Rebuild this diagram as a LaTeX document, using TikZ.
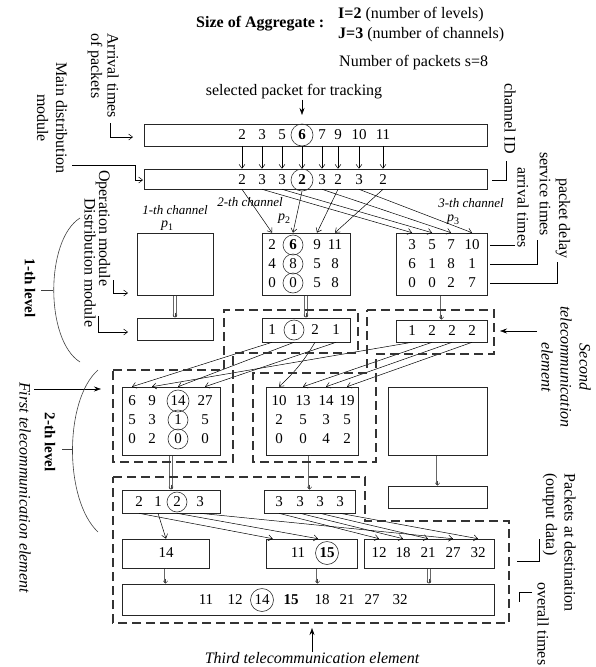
\documentclass[tikz,border=0pt]{standalone}
\usepackage{fontspec}
\setmainfont{Liberation Serif}
\usetikzlibrary{arrows.meta,calc}
\newcommand\hollowarrow[2]{%
  \draw[line width=3.6pt, black!60, shorten <=0.4pt, shorten >=1pt] #1 -- #2;%
  \draw[line width=2.0pt, white, shorten <=0.4pt, shorten >=1.2pt] #1 -- #2;%
  \draw[line width=0.5pt, black!75, -{Straight Barb[length=2.5pt,width=4.5pt]}] ($#2+(0,-5)$) -- #2;}
\begin{document}
\begin{tikzpicture}[x=1pt,y=-1pt,
  box/.style={draw=black!85, line width=0.6pt, inner sep=0pt},
  num/.style={font=\fontsize{15}{15}\selectfont, inner sep=0pt},
  ring/.style={draw=black!80, line width=0.6pt, circle, minimum size=#1, inner sep=0pt},
  ring/.default=20pt,
  arr/.style={line width=0.5pt, -{Straight Barb[length=4pt,width=6pt]}},
  dsh/.style={line width=1.2pt, draw=black!80, dash pattern=on 9pt off 5pt},
  lbl/.style={font=\fontsize{16}{18}\selectfont, inner sep=0pt},
  vlbl/.style={font=\fontsize{16}{19}\selectfont, inner sep=0pt, rotate=-90},
  chl/.style={font=\fontsize{13}{14}\selectfont\itshape, inner sep=0pt},
  pl/.style={font=\fontsize{14}{14}\selectfont, inner sep=0pt},
  big/.style={line width=0.6pt, -{Stealth[length=7pt,width=5pt]}},
  lead/.style={line width=0.6pt},
]
\useasboundingbox (0,0) rectangle (596,667);

% ---------- header ----------
\node[lbl, font=\fontsize{16}{18}\selectfont\bfseries, anchor=west] (size) at (196,24) {Size of Aggregate :};
\node[lbl, anchor=west] (lv) at (338,15) {\textbf{I=2} (number of levels)};
\node[lbl, anchor=west] (chn) at (338,35) {\textbf{J=3} (number of channels)};
\node[lbl, anchor=west] (nps) at (339,63) {Number of packets s=8};
\node[lbl] (sel) at (294,92) {selected packet for tracking};

% ---------- boxes ----------
\node[box, minimum width=343pt, minimum height=22pt] (bA) at (315.5,135) {};
\node[box, minimum width=343pt, minimum height=20pt] (bC) at (315.5,179) {};
\node[box, minimum width=76pt, minimum height=62pt] (bO1) at (175,264) {};
\node[box, minimum width=88pt, minimum height=62pt] (bO2) at (306,264) {};
\node[box, minimum width=91pt, minimum height=62pt] (bO3) at (441.5,264) {};
\node[box, minimum width=76pt, minimum height=22pt] (bD1) at (175,329) {};
\node[box, minimum width=88pt, minimum height=24pt] (bD2) at (306,330) {};
\node[box, minimum width=91pt, minimum height=22pt] (bD3) at (441.5,331) {};
\node[box, minimum width=98pt, minimum height=68pt] (bM1) at (171,421) {};
\node[box, minimum width=92pt, minimum height=68pt] (bM2) at (312,421) {};
\node[box, minimum width=99pt, minimum height=68pt] (bM3) at (437.5,421) {};
\node[box, minimum width=98pt, minimum height=23pt] (bE1) at (171,501.5) {};
\node[box, minimum width=91pt, minimum height=23pt] (bE2) at (309.5,501.5) {};
\node[box, minimum width=99pt, minimum height=22pt] (bE3) at (437.5,497) {};
\node[box, minimum width=87pt, minimum height=29pt] (bF1) at (165.5,553.5) {};
\node[box, minimum width=91pt, minimum height=29pt] (bF2) at (311.5,553.5) {};
\node[box, minimum width=130pt, minimum height=29pt] (bF3) at (429,553.5) {};
\node[box, minimum width=372pt, minimum height=31pt] (bG) at (308,599.5) {};

% ---------- arrival times / channel IDs ----------
\foreach \x/\va [count=\i] in {242/2,262/3,282/5,302/{\textbf{6}},322/7,338/9,359/10,383/11}
  \node[num] (a\i) at (\x,135) {\va};
\node[ring=22pt] (ra) at (a4) {};
\foreach \x/\va [count=\i] in {242/2,262/3,282/3,302/{\textbf{2}},322/3,338/2,359/3,383/2}
  \node[num] (c\i) at (\x,180) {\va};
\node[ring=22pt] (rc) at (c4) {};
\foreach \i in {1,...,8}
  \draw[arr] (a\i |- bA.south) -- (c\i |- bC.north);
\coordinate (selEnd) at (302,115);
\draw[big] (sel.south -| selEnd) -- (selEnd);

% ---------- level 1 operation modules ----------
\foreach \y/\va/\vb/\vc/\vd [count=\r] in {245/2/{\textbf{6}}/9/11, 264/4/8/5/8, 283/0/0/5/8}{
  \node[num] (o2-\r-1) at (272,\y) {\va};
  \node[num] (o2-\r-2) at (293,\y) {\vb};
  \node[num] (o2-\r-3) at (317,\y) {\vc};
  \node[num] (o2-\r-4) at (335,\y) {\vd};
}
\foreach \r in {1,2,3} \node[ring] (o2ring\r) at (o2-\r-2) {};
\foreach \y/\va/\vb/\vc/\vd [count=\r] in {245/3/5/7/10, 264/6/1/8/1, 283/0/0/2/7}{
  \node[num] (o3-\r-1) at (412,\y) {\va};
  \node[num] (o3-\r-2) at (432,\y) {\vb};
  \node[num] (o3-\r-3) at (451,\y) {\vc};
  \node[num] (o3-\r-4) at (472,\y) {\vd};
}
\node[chl] (ch1) at (175,210) {1-th channel};
\node[chl] (ch2) at (250,202) {2-th channel};
\node[chl] (ch3) at (471,203) {3-th channel};
\node[pl] (p1) at (167,226) {\textit{p}\raisebox{-3pt}{\fontsize{10}{10}\selectfont 1}};
\node[pl] (p2) at (284,219) {\textit{p}\raisebox{-3pt}{\fontsize{10}{10}\selectfont 2}};
\node[pl] (p3) at (453,220) {\textit{p}\raisebox{-3pt}{\fontsize{10}{10}\selectfont 3}};

\draw[arr] (c1 |- bC.south) -- (o2-1-1 |- bO2.north);
\draw[arr] (c2 |- bC.south) -- (o3-1-1 |- bO3.north);
\draw[arr] (c3 |- bC.south) -- (o3-1-2 |- bO3.north);
\draw[arr] (rc.south) -- (o2-1-2 |- bO2.north);
\draw[arr] (c5 |- bC.south) -- (o3-1-3 |- bO3.north);
\draw[arr] (c6 |- bC.south) -- (o2-1-3 |- bO2.north);
\draw[arr] (c7 |- bC.south) -- (o3-1-4 |- bO3.north);
\draw[arr] (c8 |- bC.south) -- (o2-1-4 |- bO2.north);

% ---------- level 1 distribution modules ----------
\foreach \x/\va [count=\i] in {272/1,294/1,315/2,336/1}
  \node[num] (d2-\i) at (\x,330) {\va};
\node[ring] (rd2) at (d2-2) {};
\foreach \x/\va [count=\i] in {412/1,432/2,452/2,472/2}
  \node[num] (d3-\i) at (\x,331) {\va};
\hollowarrow{(bO1.south)}{(bD1.north)}
\hollowarrow{(bO2.south)}{(bD2.north)}
\hollowarrow{(bO3.south)}{(bD3.north)}

% ---------- level 2 operation modules ----------
\foreach \y/\va/\vb/\vc/\vd [count=\r] in {401/6/9/14/27, 420/5/3/1/5, 439/0/2/0/0}{
  \node[num] (m1-\r-1) at (132,\y) {\va};
  \node[num] (m1-\r-2) at (152,\y) {\vb};
  \node[num] (m1-\r-3) at (178,\y) {\vc};
  \node[num] (m1-\r-4) at (205,\y) {\vd};
}
\node[ring=22pt] (m1ring1) at (m1-1-3) {};
\node[ring] (m1ring2) at (m1-2-3) {};
\node[ring] (m1ring3) at (m1-3-3) {};
\foreach \y/\va/\vb/\vc/\vd [count=\r] in {401/10/13/14/19, 420/2/5/3/5, 439/0/0/4/2}{
  \node[num] (m2-\r-1) at (279,\y) {\va};
  \node[num] (m2-\r-2) at (303,\y) {\vb};
  \node[num] (m2-\r-3) at (326,\y) {\vc};
  \node[num] (m2-\r-4) at (347,\y) {\vd};
}
\draw[arr] (d2-1 |- bD2.south) -- (m1-1-1 |- bM1.north);
\draw[arr] (d2-2 |- bD2.south) -- (m1-1-3 |- bM1.north);
\draw[arr] (d2-3 |- bD2.south) to[bend left=8] (m2-1-1 |- bM2.north);
\draw[arr] (d2-4 |- bD2.south) -- (m1-1-4 |- bM1.north);
\draw[arr] (d3-1 |- bD3.south) -- (m1-1-2 |- bM1.north);
\draw[arr] (d3-2 |- bD3.south) -- (m2-1-2 |- bM2.north);
\draw[arr] (d3-3 |- bD3.south) -- (m2-1-3 |- bM2.north);
\draw[arr] (d3-4 |- bD3.south) -- (m2-1-4 |- bM2.north);

\hollowarrow{(bM1.south)}{(bE1.north)}
\hollowarrow{(bE2.north |- bM2.south)}{(bE2.north)}
\hollowarrow{(bM3.south)}{(bE3.north)}

% ---------- level 2 distribution modules ----------
\foreach \x/\va [count=\i] in {139/2,158/1,177/2,200/3}
  \node[num] (e1-\i) at (\x,502) {\va};
\node[ring] (re1) at (e1-3) {};
\foreach \x [count=\i] in {279,300,320,340}
  \node[num] (e2-\i) at (\x,502) {3};

% ---------- destinations ----------
\node[num] (f1-1) at (166,553) {14};
\node[num] (f2-1) at (298,553) {11};
\node[num] (f2-2) at (327,553) {\textbf{15}};
\node[ring=23pt] (rf2) at (f2-2) {};
\foreach \x/\va [count=\i] in {379/12,403/18,428/21,453/27,478/32}
  \node[num] (f3-\i) at (\x,553) {\va};

\draw[arr] (e1-1 |- bE1.south) -- ($(bF2.north west)+(7,0)$);
\draw[arr] (e1-2 |- bE1.south) -- (f1-1 |- bF1.north);
\draw[arr] (e1-3 |- bE1.south) -- ($(f2-2 |- bF2.north)+(-9,0)$);
\draw[arr] (e1-4 |- bE1.south) -- (f3-4 |- bF3.north);
\draw[arr] (e2-1 |- bE2.south) -- (f3-1 |- bF3.north);
\draw[arr] (e2-2 |- bE2.south) -- (f3-2 |- bF3.north);
\draw[arr] (e2-3 |- bE2.south) -- (f3-3 |- bF3.north);
\draw[arr] (e2-4 |- bE2.south) -- (f3-5 |- bF3.north);

% ---------- overall ----------
\foreach \x/\va [count=\i] in {206/11,235/12,262/14,291/{\textbf{15}},322/18,347/21,372/27,400/32}
  \node[num] (g-\i) at (\x,600) {\va};
\node[ring=23pt] (rg) at (g-3) {};
\hollowarrow{(bF1.south)}{(bF1.south |- bG.north)}
\hollowarrow{($(bF2.south)+(6,0)$)}{($(bF2.south |- bG.north)+(6,0)$)}
\hollowarrow{(bF3.south)}{(bF3.south |- bG.north)}

% ---------- telecommunication elements ----------
\draw[dsh] (113,370) -- (224,370) -- (224,310) -- (358,310) -- (358,353) -- (233,353) -- (233,462) -- (113,462) -- cycle;
\draw[dsh] (367,310) -- (494,310) -- (494,354) -- (376,354) -- (376,462) -- (253,462) -- (253,373) -- (367,373) -- cycle;
\draw[dsh] (113,477) -- (365,477) -- (365,521) -- (509,521) -- (509,623) -- (113,623) -- cycle;

\node[vlbl, font=\fontsize{16}{19}\selectfont\itshape, anchor=west] (first) at (25,382) {First telecommunication element};
\coordinate (firstS) at (34,389);
\coordinate (firstT) at (101,389);
\draw[big] (firstS) -- (firstT);

\node[vlbl, font=\fontsize{16}{19}\selectfont\itshape, align=center] (second) at (566,367) {Second\\telecommunication\\element};
\coordinate (secS) at (537,331);
\coordinate (secT) at (500,331);
\draw[big] (secS) -- (secT);

\node[lbl, font=\fontsize{16}{18}\selectfont\itshape] (third) at (312,658) {Third telecommunication element};
\coordinate (thirdT) at (312,628);
\draw[big] (third.north) -- (thirdT);

% ---------- levels ----------
\node[vlbl, font=\fontsize{15}{17}\selectfont\bfseries] (lev1) at (30,288) {1-th level};
\draw[lead, black!75] (80,218) .. controls (45,240) and (45,340) .. (80,362);
\draw[lead, black!75] (41,290) -- (53,290);
\node[vlbl, font=\fontsize{15}{17}\selectfont\bfseries] (lev2) at (50,442) {2-th level};
\draw[lead, black!75] (98,370) .. controls (64,400) and (64,500) .. (98,532);
\draw[lead, black!75] (62,449) -- (73,449);

% ---------- left labels ----------
\node[vlbl, anchor=west] (arrT1) at (113,33) {Arrival times};
\node[vlbl, anchor=west] (arrT2) at (95,33) {of packets};
\coordinate (l1s) at (110,123);
\coordinate (l1e) at (133,137);
\draw[arr] (l1s) |- (l1e);

\node[vlbl, align=center] (mdm) at (52,118) {Main distribution\\module};
\coordinate (l2s) at (72,165);
\coordinate (l2m) at (135,165);
\coordinate (l2e) at (143,180);
\draw[arr] (l2s) -- (l2m) |- (l2e);

\node[vlbl, anchor=west] (opm) at (103,170) {Operation module};
\coordinate (l3s) at (113,280);
\coordinate (l3e) at (128,293);
\draw[arr] (l3s) |- (l3e);
\node[vlbl, anchor=west] (dim) at (90,198) {Distribution module};
\coordinate (l4s) at (98,316);
\coordinate (l4e) at (128,332);
\draw[arr] (l4s) |- (l4e);

% ---------- right labels ----------
\node[vlbl, anchor=west] (chid) at (510,83) {channel ID};
\coordinate (r1s) at (506,161);
\coordinate (r1e) at (492,180);
\draw[lead] (r1s) |- (r1e);

\node[vlbl, anchor=west] (arrv) at (523,167) {arrival times};
\node[vlbl, anchor=west] (serv) at (545,152) {service times};
\node[vlbl, anchor=west] (pdel) at (563,178) {packet delay};
\coordinate (r2s) at (515,245);
\coordinate (r2e) at (490,245);
\draw[lead] (r2s) -- (r2e);
\coordinate (r3s) at (537,240);
\coordinate (r3e) at (490,264);
\draw[lead] (r3s) |- (r3e);
\coordinate (r4s) at (557,262);
\coordinate (r4e) at (490,283);
\draw[lead] (r4s) |- (r4e);

\node[vlbl, anchor=west] (pad1) at (570,473) {Packets at destination};
\node[vlbl, anchor=west] (pad2) at (550,473) {(output data)};
\coordinate (r5s) at (539,539);
\coordinate (r5e) at (517,561);
\draw[lead] (r5s) |- (r5e);

\node[vlbl, anchor=west] (ovt) at (543,582) {overall times};
\coordinate (r6s) at (532,592);
\coordinate (r6m) at (519,592);
\coordinate (r6e) at (519,602);
\draw[lead] (r6s) -- (r6m) -- (r6e);
\end{tikzpicture}
\end{document}
